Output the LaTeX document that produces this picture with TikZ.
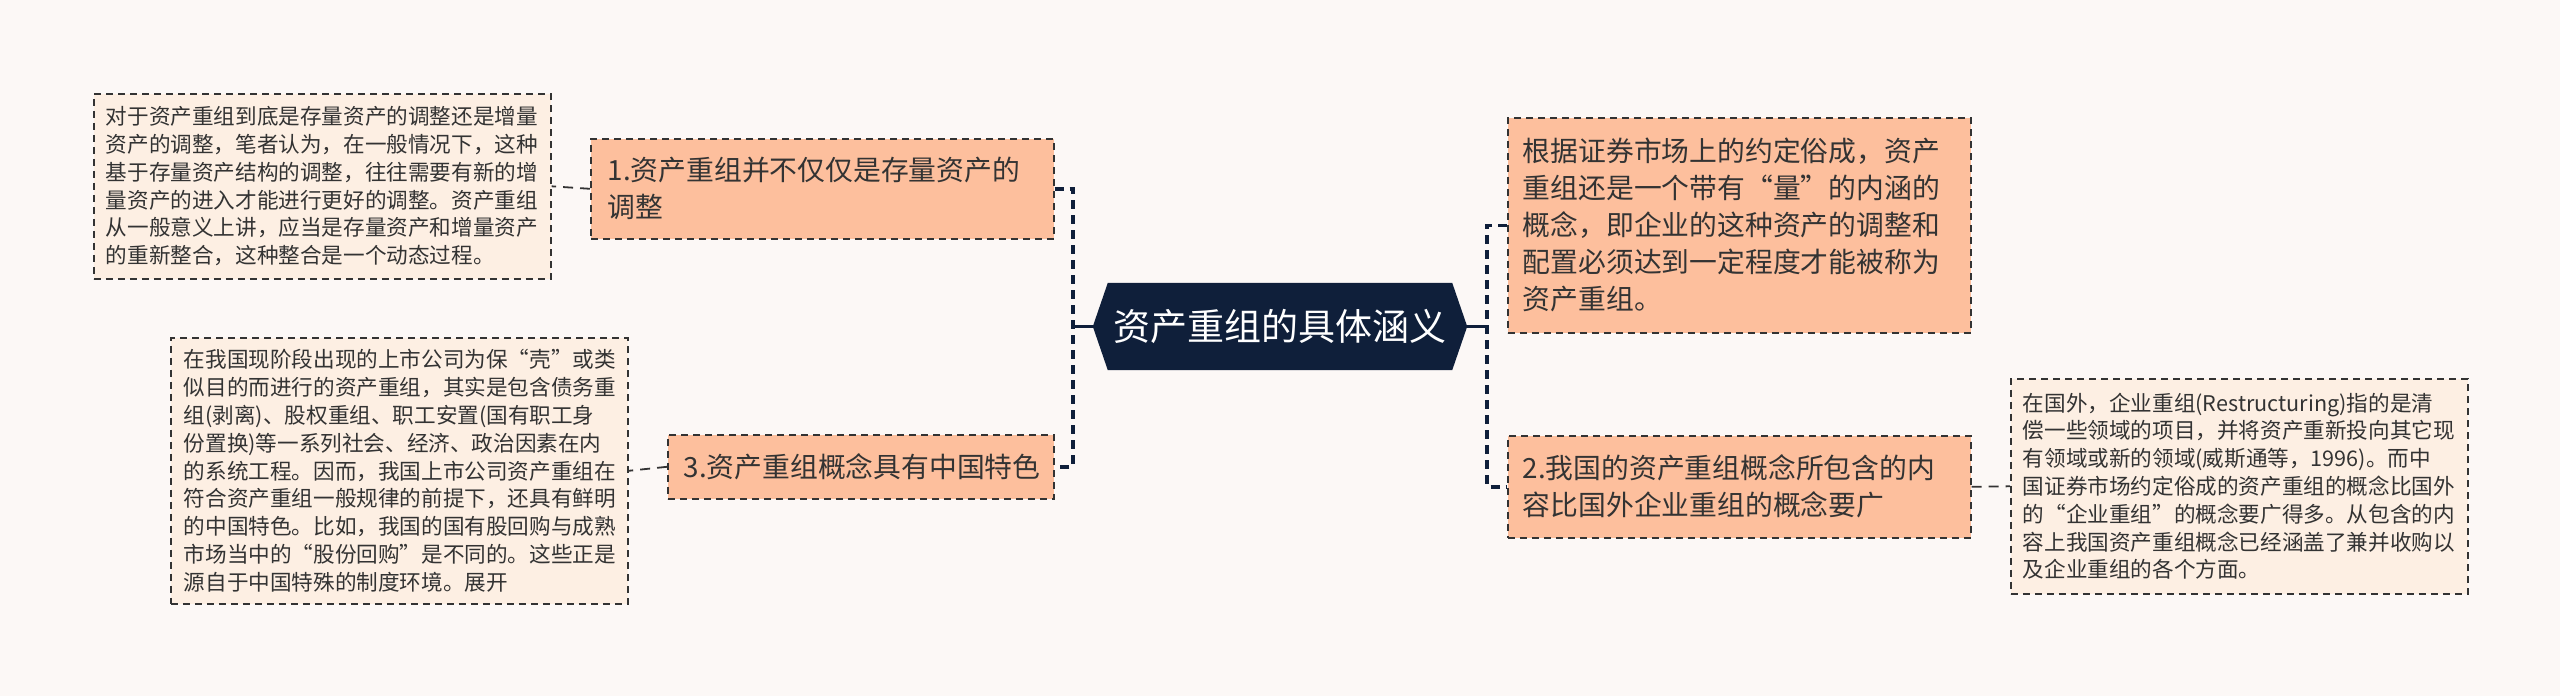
\documentclass[tikz,border=0pt]{standalone}
\usepackage{fontspec}
\setmainfont{Noto Sans CJK SC}
\newfontfamily\fq[CharacterWidth=Full]{Noto Sans CJK SC}
\newcommand\qo{{\fq “}}
\newcommand\qc{{\fq ”}}
\usetikzlibrary{backgrounds}
\definecolor{bg}{HTML}{FCF8F6}
\definecolor{navy}{HTML}{0F1F3A}
\definecolor{topicfill}{HTML}{FDBF9D}
\definecolor{leaffill}{HTML}{FDEFE3}
\definecolor{ink}{HTML}{333333}
\tikzset{
  box/.style={draw=ink, line width=1.6pt, dash pattern=on 7pt off 5pt, anchor=north west, align=left, text=ink, inner ysep=0pt},
  topicbox/.style={box, fill=topicfill, font=\fontsize{27.8}{37}\selectfont},
  leafbox/.style={box, fill=leaffill, font=\fontsize{21.6}{27.8}\selectfont},
  branch/.style={draw=navy, line width=3.5pt, dash pattern=on 9pt off 6pt},
  leafline/.style={draw=ink, line width=1.8pt, dash pattern=on 10pt off 7pt},
  stem/.style={draw=navy, line width=2.5pt},
  centernode/.style={minimum width=374pt, minimum height=87pt, inner sep=0pt, text=white, font=\fontsize{37}{44}\selectfont},
}
\begin{document}
\begin{tikzpicture}[x=1pt, y=-1pt]
\useasboundingbox (0,0) rectangle (2560,696);
\begin{scope}[on background layer]
  \fill[bg] (0,0) rectangle (2560,696);
\end{scope}

\node[centernode] (c) at (1280,326.5) {资产重组的具体涵义};
\begin{scope}[on background layer]
  \fill[navy] (c.west) -- ([xshift=15pt]c.north west) -- ([xshift=-15pt]c.north east) -- (c.east) -- ([xshift=-15pt]c.south east) -- ([xshift=15pt]c.south west) -- cycle;
\end{scope}

\node[leafbox, text width=433pt, inner xsep=12pt, minimum height=185pt] (l1) at (93,93) {对于资产重组到底是存量资产的调整还是增量\\
资产的调整，笔者认为，在一般情况下，这种\\
基于存量资产结构的调整，往往需要有新的增\\
量资产的进入才能进行更好的调整。资产重组\\
从一般意义上讲，应当是存量资产和增量资产\\
的重新整合，这种整合是一个动态过程。};

\node[topicbox, text width=429pt, inner xsep=17pt, minimum height=100pt] (t1) at (590,138) {1.资产重组并不仅仅是存量资产的\\调整};

\node[leafbox, text width=431pt, inner xsep=13pt, minimum height=266pt] (l3) at (170,337) {在我国现阶段出现的上市公司为保\qo 壳\qc 或类\\
似目的而进行的资产重组，其实是包含债务重\\
组(剥离)、股权重组、职工安置(国有职工身\\
份置换)等一系列社会、经济、政治因素在内\\
的系统工程。因而，我国上市公司资产重组在\\
符合资产重组一般规律的前提下，还具有鲜明\\
的中国特色。比如，我国的国有股回购与成熟\\
市场当中的\qo 股份回购\qc 是不同的。这些正是\\
源自于中国特殊的制度环境。展开};

\node[topicbox, text width=354pt, inner xsep=16pt, minimum height=64pt] (t3) at (667,434) {3.资产重组概念具有中国特色};

\node[topicbox, text width=433pt, inner xsep=15pt, minimum height=215pt] (r1) at (1507,117) {根据证券市场上的约定俗成，资产\\
重组还是一个带有\qo 量\qc 的内涵的\\
概念，即企业的这种资产的调整和\\
配置必须达到一定程度才能被称为\\
资产重组。};

\node[topicbox, text width=433pt, inner xsep=15pt, minimum height=102pt] (t2) at (1507,435) {2.我国的资产重组概念所包含的内\\容比国外企业重组的概念要广};

\node[leafbox, text width=433pt, inner xsep=12pt, minimum height=215pt] (l2) at (2010,378) {在国外，企业重组(Restructuring)指的是清\\
偿一些领域的项目，并将资产重新投向其它现\\
有领域或新的领域(威斯通等，1996)。而中\\
国证券市场约定俗成的资产重组的概念比国外\\
的\qo 企业重组\qc 的概念要广得多。从包含的内\\
容上我国资产重组概念已经涵盖了兼并收购以\\
及企业重组的各个方面。};

\coordinate (jL) at (1073,326.5);
\coordinate (jR) at (1487,326.5);

\draw[stem] (c.west) -- (jL);
\draw[branch] (t1.east) -| (jL) |- (t3.east);
\draw[stem] (c.east) -- (jR);
\draw[branch] (r1.west) -| (jR) |- (t2.west);

\draw[leafline] (t1.west) -- (l1.east);
\draw[leafline] (t3.west) -- (l3.east);
\draw[leafline] (t2.east) -- (l2.west);
\end{tikzpicture}
\end{document}
